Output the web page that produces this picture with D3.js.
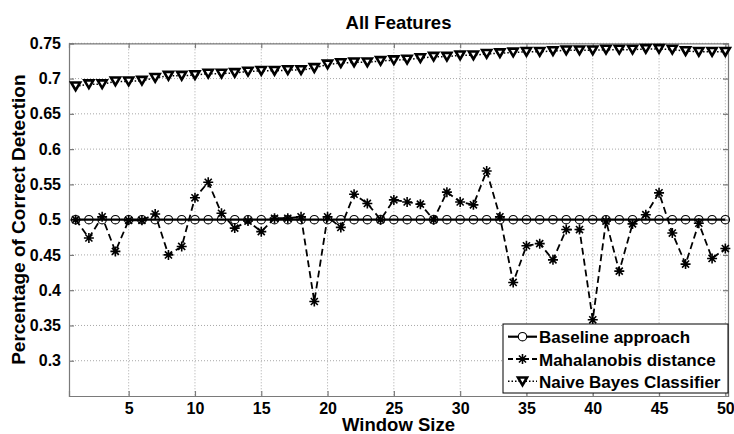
<!DOCTYPE html>
<html>
<head>
<meta charset="utf-8">
<script src="https://cdn.jsdelivr.net/npm/d3@7"></script>
<style>
  html, body { margin: 0; padding: 0; background: #fff; }
  svg { display: block; font-family: "Liberation Sans", Arial, sans-serif; }
</style>
</head>
<body>
<svg id="chart" width="734" height="434"></svg>
<script>
// ---- Data ----
const windowSizes = d3.range(1, 51);
const baseline = windowSizes.map(() => 0.5);
const mahalanobis = [
  0.500, 0.474, 0.504, 0.455, 0.499, 0.499, 0.508, 0.450, 0.462, 0.531,
  0.553, 0.509, 0.488, 0.498, 0.483, 0.502, 0.502, 0.504, 0.384, 0.504,
  0.489, 0.536, 0.523, 0.500, 0.528, 0.525, 0.522, 0.500, 0.539, 0.525,
  0.521, 0.569, 0.504, 0.411, 0.463, 0.466, 0.443, 0.486, 0.486, 0.358,
  0.498, 0.427, 0.494, 0.507, 0.538, 0.481, 0.437, 0.495, 0.445, 0.459
];
const naiveBayes = [
  0.689, 0.692, 0.692, 0.696, 0.696, 0.697, 0.701, 0.704, 0.704, 0.705,
  0.707, 0.707, 0.708, 0.710, 0.711, 0.711, 0.712, 0.712, 0.715, 0.720,
  0.722, 0.723, 0.723, 0.725, 0.726, 0.727, 0.729, 0.731, 0.731, 0.733,
  0.733, 0.735, 0.736, 0.737, 0.738, 0.738, 0.739, 0.740, 0.740, 0.740,
  0.741, 0.741, 0.741, 0.742, 0.742, 0.741, 0.739, 0.738, 0.738, 0.738
];
const xTicks = [5, 10, 15, 20, 25, 30, 35, 40, 45, 50];
const yTicks = [0.3, 0.35, 0.4, 0.45, 0.5, 0.55, 0.6, 0.65, 0.7, 0.75];
const yTickLabels = ["0.3", "0.35", "0.4", "0.45", "0.5", "0.55", "0.6", "0.65", "0.7", "0.75"];
const seriesNames = ["Baseline approach", "Mahalanobis distance", "Naive Bayes Classifier"];
const titleText = "All Features";
const xLabel = "Window Size";
const yLabel = "Percentage of Correct Detection";

// ---- Layout ----
const svg = d3.select("#chart");
const L = 69, R = 728, T = 43.3, B = 396;
const x = d3.scaleLinear().domain([0.5, 50.2]).range([L, R]);
const y = d3.scaleLinear().domain([0.25, 0.75]).range([B, T]);
const axisColor = "#7a7a7a";
const gridColor = "#a8a8a8";

// grid
const grid = svg.append("g");
grid.selectAll("line.gx").data(xTicks).enter().append("line")
  .attr("x1", d => x(d)).attr("x2", d => x(d)).attr("y1", T).attr("y2", B)
  .attr("stroke", gridColor).attr("stroke-width", 1).attr("stroke-dasharray", "1,2");
grid.selectAll("line.gy").data(yTicks).enter().append("line")
  .attr("x1", L).attr("x2", R).attr("y1", d => y(d)).attr("y2", d => y(d))
  .attr("stroke", gridColor).attr("stroke-width", 1).attr("stroke-dasharray", "1,2");

// axes (inward ticks on all sides)
const tickFont = "bold 16px 'Liberation Sans', Arial, sans-serif";
const axB = svg.append("g").attr("transform", `translate(0,${B})`)
  .call(d3.axisBottom(x).tickValues(xTicks).tickSize(-5).tickPadding(7).tickFormat(d3.format("d")));
const axT = svg.append("g").attr("transform", `translate(0,${T})`)
  .call(d3.axisTop(x).tickValues(xTicks).tickSize(-5).tickFormat(""));
const axL = svg.append("g").attr("transform", `translate(${L},0)`)
  .call(d3.axisLeft(y).tickValues(yTicks).tickSize(-5).tickPadding(8)
    .tickFormat((d, i) => yTickLabels[i]));
const axRt = svg.append("g").attr("transform", `translate(${R},0)`)
  .call(d3.axisRight(y).tickValues(yTicks).tickSize(-5).tickFormat(""));
[axB, axT, axL, axRt].forEach(g => {
  g.select(".domain").attr("stroke", axisColor).attr("stroke-width", 1.2);
  g.selectAll(".tick line").attr("stroke", axisColor).attr("stroke-width", 1.2);
  g.selectAll(".tick text").style("font", tickFont).attr("fill", "#000");
});
axB.selectAll(".tick text").attr("dy", "0.71em");

// ---- series ----
const lineGen = d3.line().x((d, i) => x(windowSizes[i])).y(d => y(d));
const plot = svg.append("g");

function starPath(cx, cy, r) {
  const d = r * 0.7071;
  return `M${cx - r},${cy}L${cx + r},${cy}M${cx},${cy - r}L${cx},${cy + r}` +
         `M${cx - d},${cy - d}L${cx + d},${cy + d}M${cx - d},${cy + d}L${cx + d},${cy - d}`;
}
function triPath(cx, cy, s) {
  const h = s * 0.85;
  return `M${cx - s / 2},${cy - h / 2}L${cx + s / 2},${cy - h / 2}L${cx},${cy + h / 2}Z`;
}

// baseline
plot.append("path").datum(baseline).attr("d", lineGen)
  .attr("fill", "none").attr("stroke", "#000").attr("stroke-width", 2.2);
plot.selectAll("circle.b").data(baseline).enter().append("circle")
  .attr("cx", (d, i) => x(windowSizes[i])).attr("cy", d => y(d)).attr("r", 4.2)
  .attr("fill", "none").attr("stroke", "#000").attr("stroke-width", 1.1);

// mahalanobis
plot.append("path").datum(mahalanobis).attr("d", lineGen)
  .attr("fill", "none").attr("stroke", "#000").attr("stroke-width", 1.8)
  .attr("stroke-dasharray", "7,4");
plot.selectAll("path.m").data(mahalanobis).enter().append("path")
  .attr("d", (d, i) => starPath(x(windowSizes[i]), y(d), 5))
  .attr("fill", "none").attr("stroke", "#000").attr("stroke-width", 1.6);

// naive bayes
plot.append("path").datum(naiveBayes).attr("d", lineGen)
  .attr("fill", "none").attr("stroke", "#000").attr("stroke-width", 1.5)
  .attr("stroke-dasharray", "1.5,2");
plot.selectAll("path.n").data(naiveBayes).enter().append("path")
  .attr("d", (d, i) => triPath(x(windowSizes[i]), y(d), 9))
  .attr("fill", "#fff").attr("stroke", "#000").attr("stroke-width", 2.6)
  .attr("stroke-linejoin", "miter");

// ---- title and labels ----
svg.append("text").attr("x", (L + R) / 2).attr("y", 29).attr("text-anchor", "middle")
  .style("font", "bold 18.5px 'Liberation Sans', Arial, sans-serif").text(titleText);
svg.append("text").attr("x", (L + R) / 2).attr("y", 431).attr("text-anchor", "middle")
  .style("font", "bold 18.5px 'Liberation Sans', Arial, sans-serif").text(xLabel);
svg.append("text").attr("transform", `translate(25,${(T + B) / 2}) rotate(-90)`)
  .attr("text-anchor", "middle")
  .style("font", "bold 19px 'Liberation Sans', Arial, sans-serif").text(yLabel);

// ---- legend ----
const lg = svg.append("g");
const lgX = 503, lgY = 324, lgW = 225, lgH = 69;
lg.append("rect").attr("x", lgX).attr("y", lgY).attr("width", lgW).attr("height", lgH)
  .attr("fill", "#fff").attr("stroke", "#000").attr("stroke-width", 1);
const rowY = [336.7, 359, 381.3];
const styles = [
  { dash: null, sw: 2.2 },
  { dash: "5,3", sw: 1.8 },
  { dash: "1.5,2", sw: 1.5 }
];
seriesNames.forEach((name, i) => {
  const yy = rowY[i];
  const ln = lg.append("line").attr("x1", 508).attr("x2", 537).attr("y1", yy).attr("y2", yy)
    .attr("stroke", "#000").attr("stroke-width", styles[i].sw);
  if (styles[i].dash) ln.attr("stroke-dasharray", styles[i].dash);
  const mx = 522.5;
  if (i === 0) {
    lg.append("circle").attr("cx", mx).attr("cy", yy).attr("r", 4.2)
      .attr("fill", "#fff").attr("stroke", "#000").attr("stroke-width", 1.1);
  } else if (i === 1) {
    lg.append("path").attr("d", starPath(mx, yy, 5)).attr("stroke", "#000").attr("stroke-width", 1.6);
  } else {
    lg.append("path").attr("d", triPath(mx, yy, 9)).attr("fill", "#fff")
      .attr("stroke", "#000").attr("stroke-width", 2.6);
  }
  lg.append("text").attr("x", 539).attr("y", yy + 6.5)
    .style("font", "bold 17px 'Liberation Sans', Arial, sans-serif").text(name);
});
</script>
</body>
</html>
